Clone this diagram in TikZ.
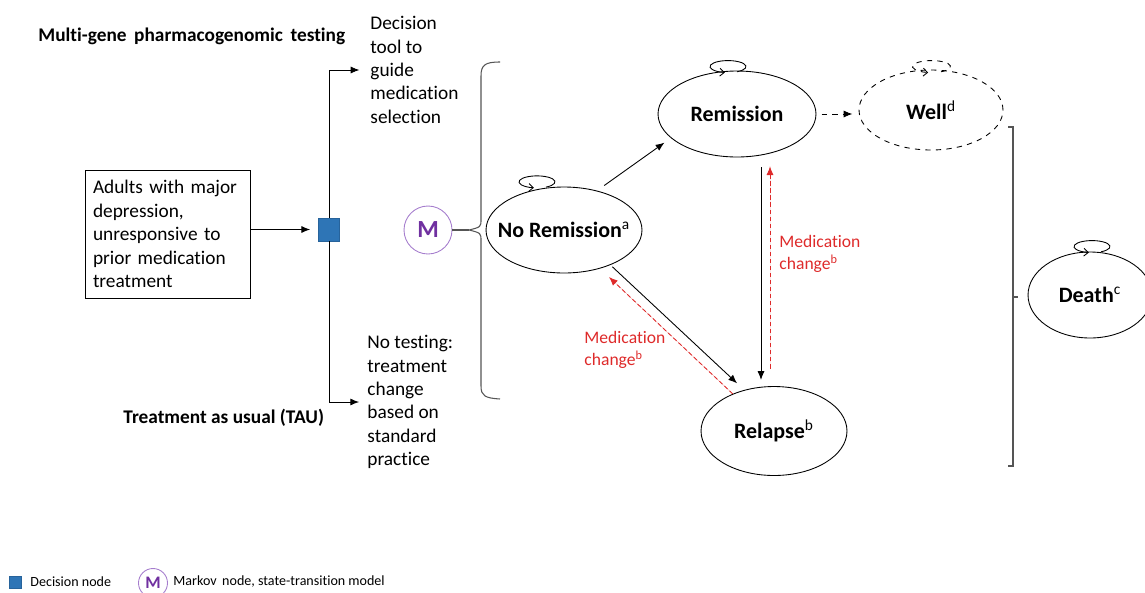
\documentclass[tikz,border=0pt]{standalone}
\usepackage{fontspec}
\setmainfont[Ligatures=NoCommon]{Carlito}
\usetikzlibrary{arrows.meta,shapes.geometric,calc}

\definecolor{medred}{RGB}{222,42,42}
\definecolor{markov}{RGB}{112,48,160}
\definecolor{markovring}{RGB}{165,125,205}
\definecolor{decblue}{RGB}{46,117,182}
\definecolor{bracegray}{RGB}{85,85,85}

\begin{document}
\begin{tikzpicture}[x=0.02cm,y=-0.02cm,line width=0.5pt,
  healthstate/.style={draw,ellipse,inner sep=0pt,font=\fontsize{12.5}{15}\selectfont\bfseries},
  flow/.style={-{Latex[length=5pt,width=4pt]}},
  med/.style={flow,draw=medred,fill=medred,dash pattern=on 2.5pt off 1.5pt},
  selfloop/.style={-{Straight Barb[length=2.5pt,width=4.5pt]}},
  branchtext/.style={font=\fontsize{11}{13.3}\selectfont,align=left,inner sep=0pt,anchor=west},
  heading/.style={font=\fontsize{11}{13}\selectfont\bfseries,inner sep=0pt,anchor=west},
  medlabel/.style={text=medred,font=\fontsize{10}{12.4}\selectfont,align=left,inner sep=0pt,anchor=west},
  markovnode/.style={circle,draw=markovring,text=markov,inner sep=0pt},
  decnode/.style={rectangle,fill=decblue,draw=decblue!85!black,inner sep=0pt},
  bracket/.style={draw=bracegray,line width=0.6pt},
  legendtext/.style={font=\fontsize{8}{9}\selectfont,inner sep=0pt,anchor=west}]
\useasboundingbox (0,0) rectangle (1145,592);

% decision tree
\node[heading] (mgt) at (38,36) {Multi-gene\, pharmacogenomic\, testing};
\node[heading] (tau) at (123,418) {Treatment as usual (TAU)};
\node[draw,text width=2.98cm,inner sep=0.16cm,minimum height=2.56cm,align=left,
  font=\fontsize{11}{13.3}\selectfont] (pop) at (167.5,234)
  {Adults with major\\depression,\\unresponsive to\\prior medication\\treatment};
\node[decnode,minimum width=0.42cm,minimum height=0.46cm] (dec) at (329,229.5) {};
\node[branchtext] (tool) at (370,70) {Decision\\tool to\\guide\\medication\\selection};
\node[branchtext] (notest) at (367,402) {No testing:\\treatment\\change\\based on\\standard\\practice};
\draw[flow,shorten >=4.5pt] (pop.east |- dec) -- (dec.west);
\draw[flow,shorten >=6pt] (dec.north) |- (tool.west);
\draw[flow,shorten >=4.5pt] (dec.south) |- (notest.west);

% markov model
\node[markovnode,minimum size=0.96cm,font=\fontsize{14}{14}\selectfont\bfseries] (mk) at (428,230) {M};
\coordinate (brtip) at (469,230);
\draw[bracket] (mk) -- (brtip);
\draw[bracket] (500,62) .. controls (485,62) and (481,65) .. (481,76) -- (481,219)
  .. controls (481,227) .. (brtip) .. controls (481,233) .. (481,241) -- (481,386)
  .. controls (481,396) and (485,398) .. (500,399);

\node[healthstate,minimum width=3.12cm,minimum height=1.72cm] (nrem) at (564,230)
  {\makebox[0pt]{No Remission\textsuperscript{\mdseries a}}};
\node[healthstate,minimum width=3.16cm,minimum height=1.72cm] (rem) at (737,114)
  {\makebox[0pt]{Remission}};
\node[healthstate,dashed,minimum width=2.88cm,minimum height=1.6cm] (well) at (931,110)
  {\makebox[0pt]{Well\textsuperscript{\mdseries d}}};
\node[healthstate,minimum width=2.92cm,minimum height=1.78cm] (rel) at (774,431)
  {\makebox[0pt]{Relapse\textsuperscript{\mdseries b}}};
\node[healthstate,minimum width=2.48cm,minimum height=1.72cm] (death) at (1090,295)
  {\makebox[0pt]{Death\textsuperscript{\mdseries c}}};

\draw[selfloop] ($(nrem.north)+(-18,0.5)$) arc[start angle=60,end angle=-260,x radius=18,y radius=6];
\draw[selfloop] ($(rem.north)+(0,1.2)$) arc[start angle=60,end angle=-260,x radius=18,y radius=6];
\draw[selfloop,dashed] ($(well.north)+(10,2.2)$) arc[start angle=60,end angle=-260,x radius=19,y radius=6];
\draw[selfloop] ($(death.north)+(11,0.2)$) arc[start angle=60,end angle=-260,x radius=18,y radius=6];

\draw[flow,shorten <=5pt,shorten >=4.5pt] (nrem.50) -- (rem.200);
\draw[flow,dashed,shorten <=3pt,shorten >=3.5pt] (rem.east) -- (rem.east -| well.west);
\draw[flow,shorten <=1.5pt,shorten >=5.5pt] (nrem.-37) -- (rel.126);
\draw[med,shorten >=7pt] (rel.138) -- (nrem.-47.5);
\draw[flow,shorten <=5.5pt,shorten >=3.5pt] ([xshift=0.48cm]rem.south) -- ([xshift=0.48cm]rem.south |- rel.north);
\draw[med,shorten <=10pt,shorten >=5pt] ([xshift=0.66cm]rem.south |- rel.north) -- ([xshift=0.66cm]rem.south);

\node[medlabel] (mc1) at (779,254) {Medication\\change\textsuperscript{b}};
\node[medlabel] (mc2) at (584,350) {Medication\\change\textsuperscript{b}};

\coordinate (rbtip) at (1018,297);
\draw[bracket] (1008,127) -- (1013,127) -- (1013,466) -- (1008,466);
\draw[bracket] (1013,297) -- (rbtip);

% legend
\node[decnode,minimum size=0.24cm] (legdec) at (15,582) {};
\node[legendtext] (legdectxt) at (30,582) {Decision node};
\node[markovnode,minimum size=0.58cm,font=\fontsize{10}{10}\selectfont\bfseries] (legmk) at (153,583) {M};
\node[legendtext] (legmktxt) at (173,582) {Markov\, node, state-transition model};
\end{tikzpicture}
\end{document}
